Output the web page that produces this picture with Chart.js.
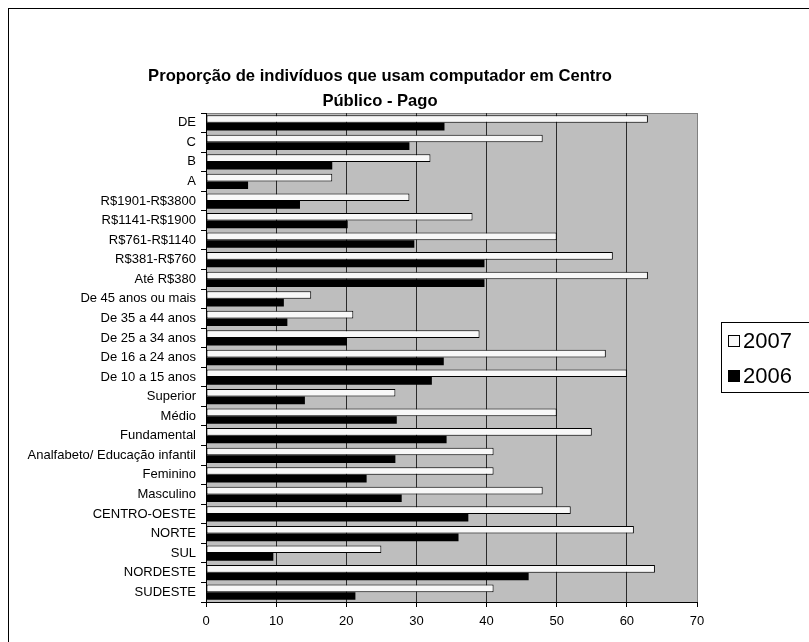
<!DOCTYPE html>
<html>
<head>
<meta charset="utf-8">
<script src="https://cdn.jsdelivr.net/npm/chart.js@4"></script>
<style>
  html, body { margin: 0; padding: 0; background: #fff; }
  #c { display: block; }
</style>
</head>
<body>
<canvas id="c" width="809" height="642"></canvas>
<script>
// Categories, listed from top to bottom
const categories = [
  'DE', 'C', 'B', 'A',
  'R$1901-R$3800', 'R$1141-R$1900', 'R$761-R$1140', 'R$381-R$760', 'Até R$380',
  'De 45 anos ou mais', 'De 35 a 44 anos', 'De 25 a 34 anos', 'De 16 a 24 anos', 'De 10 a 15 anos',
  'Superior', 'Médio', 'Fundamental', 'Analfabeto/ Educação infantil',
  'Feminino', 'Masculino',
  'CENTRO-OESTE', 'NORTE', 'SUL', 'NORDESTE', 'SUDESTE'
];

const seriesNames = ['2007', '2006'];

const values2007 = [63, 48, 32, 18, 29, 38, 50, 58, 63, 15, 21, 39, 57, 60, 27, 50, 55, 41, 41, 48, 52, 61, 25, 64, 41];
const values2006 = [34, 29, 18, 6, 13.4, 20.2, 29.7, 39.7, 39.7, 11.1, 11.6, 20.1, 33.9, 32.2, 14.1, 27.2, 34.3, 27, 22.9, 27.9, 37.4, 36, 9.6, 46, 21.3];

const xTicks = [0, 10, 20, 30, 40, 50, 60, 70];

const titleLines = ['Proporção de indivíduos que usam computador em Centro', 'Público - Pago'];

const FONT = "'Liberation Sans', Arial, sans-serif";

// Frame around the whole figure, grey plot area
const backdrop = {
  id: 'backdrop',
  beforeDraw(chart) {
    const { ctx, chartArea: a } = chart;
    ctx.save();
    ctx.fillStyle = '#fff';
    ctx.fillRect(0, 0, chart.width, chart.height);
    ctx.strokeStyle = '#000';
    ctx.lineWidth = 1;
    ctx.strokeRect(8.5, 8.5, chart.width + 10, chart.height + 10);
    ctx.fillStyle = '#BEBEBE';
    ctx.fillRect(a.left, a.top, a.right - a.left, a.bottom - a.top);
    ctx.strokeStyle = '#808080';
    ctx.strokeRect(Math.round(a.left) + 0.5, Math.round(a.top) + 0.5,
                   Math.round(a.right - a.left), Math.round(a.bottom - a.top));
    ctx.restore();
  }
};

// Two-line heading centred over the figure
const heading = {
  id: 'heading',
  afterDraw(chart) {
    const { ctx } = chart;
    ctx.save();
    ctx.fillStyle = '#000';
    ctx.font = 'bold 16.6px ' + FONT;
    ctx.textAlign = 'center';
    ctx.textBaseline = 'middle';
    titleLines.forEach((line, i) => ctx.fillText(line, 380, 76 + i * 25));
    ctx.restore();
  }
};

// Boxed legend to the right of the plot
const boxedLegend = {
  id: 'boxedLegend',
  afterDraw(chart) {
    const { ctx } = chart;
    const x = 721, y = 322, w = 88, h = 70;
    ctx.save();
    ctx.fillStyle = '#fff';
    ctx.fillRect(x, y, w, h);
    ctx.strokeStyle = '#000';
    ctx.lineWidth = 1;
    ctx.strokeRect(x + 0.5, y + 0.5, w, h);
    ctx.font = '22px ' + FONT;
    ctx.textBaseline = 'middle';
    ctx.textAlign = 'left';
    chart.data.datasets.forEach((ds, i) => {
      const cy = 341 + i * 35;
      ctx.fillStyle = ds.backgroundColor;
      ctx.fillRect(728, cy - 6, 12, 12);
      ctx.strokeStyle = '#000';
      ctx.strokeRect(728.5, cy - 5.5, 11, 11);
      ctx.fillStyle = '#000';
      ctx.fillText(ds.label, 743, cy + 1);
    });
    ctx.restore();
  }
};

new Chart(document.getElementById('c'), {
  type: 'bar',
  data: {
    labels: categories,
    datasets: [
      {
        label: seriesNames[0],
        data: values2007,
        backgroundColor: '#F8F8F8',
        borderColor: '#000',
        borderWidth: 1,
        borderSkipped: false,
        barPercentage: 1.0,
        categoryPercentage: 0.78
      },
      {
        label: seriesNames[1],
        data: values2006,
        backgroundColor: '#000000',
        borderColor: '#000',
        borderWidth: 0,
        barPercentage: 1.0,
        categoryPercentage: 0.78
      }
    ]
  },
  options: {
    indexAxis: 'y',
    responsive: false,
    animation: false,
    devicePixelRatio: 1,
    layout: { padding: { left: 0, right: 112, top: 113, bottom: 0 } },
    plugins: {
      legend: { display: false },
      tooltip: { enabled: false },
      title: { display: false }
    },
    scales: {
      x: {
        type: 'linear',
        min: 0,
        max: 70,
        afterBuildTicks(scale) { scale.ticks = xTicks.map(v => ({ value: v })); },
        afterFit(scale) { scale.height = 40; },
        ticks: { color: '#000', font: { family: FONT, size: 13 }, padding: 7 },
        grid: {
          color: (c) => c.tick && c.tick.value === 70 ? '#808080' : (c.tick && c.tick.value === 0 ? '#000' : '#2a2a2a'),
          tickColor: '#000',
          tickLength: 5,
          lineWidth: 1
        },
        border: { color: '#000', width: 1 }
      },
      y: {
        type: 'category',
        afterFit(scale) { scale.width = 206; },
        ticks: { color: '#000', font: { family: FONT, size: 13 }, padding: 5, autoSkip: false },
        grid: {
          drawOnChartArea: false,
          drawTicks: true,
          tickLength: 5,
          color: '#000',
          offset: true
        },
        border: { color: '#000', width: 1 }
      }
    }
  },
  plugins: [backdrop, heading, boxedLegend]
});
</script>
</body>
</html>
